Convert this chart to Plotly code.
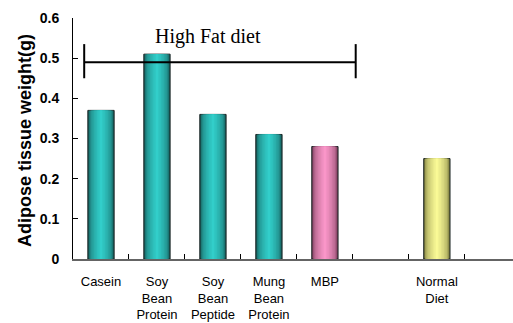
import plotly.graph_objects as go

# Adipose tissue weight by diet group
categories = ["Casein", "Soy<br>Bean<br>Protein", "Soy<br>Bean<br>Peptide",
              "Mung<br>Bean<br>Protein", "MBP", "", "Normal<br>Diet"]
weights = [0.37, 0.51, 0.36, 0.31, 0.28, None, 0.25]
bar_groups = ["teal", "teal", "teal", "teal", "pink", None, "yellow"]

# "High Fat diet" bracket: spans the first five groups
bracket_x = [-0.30, 4.55]
bracket_y = 0.49
bracket_cap = [0.45, 0.535]
bracket_label = "High Fat diet"

y_ticks = [0, 0.1, 0.2, 0.3, 0.4, 0.5, 0.6]
y_ticktext = ["0", "0.1", "0.2", "0.3", "0.4", "0.5", "0.6"]
y_title = "Adipose tissue weight(g)"

palette = {
    "teal": ((20, 90, 88), (50, 206, 202)),
    "pink": ((120, 60, 90), (250, 150, 200)),
    "yellow": ((120, 120, 60), (250, 250, 150)),
}


def mix(a, b, t):
    return "rgb(%d,%d,%d)" % tuple(round(a[i] + (b[i] - a[i]) * t) for i in range(3))


xs = list(range(len(categories)))
bar_width = 0.47
layers = 9

fig = go.Figure()
for key, (edge, centre) in palette.items():
    px = [x for x, g in zip(xs, bar_groups) if g == key]
    py = [v for v, g in zip(weights, bar_groups) if g == key]
    for k in range(layers):
        t = k / (layers - 1)
        w = bar_width * (1 - 0.92 * t)
        shade = t ** 0.45
        fig.add_trace(go.Bar(
            x=px, y=py, width=[w] * len(px),
            marker=dict(color=mix(edge, centre, shade),
                        line=dict(color="rgb(30,40,40)" if k == 0 else "rgba(0,0,0,0)",
                                  width=1 if k == 0 else 0)),
            showlegend=False, hoverinfo="skip",
        ))

# bracket line and end caps
fig.add_trace(go.Scatter(x=bracket_x, y=[bracket_y, bracket_y], mode="lines",
                         line=dict(color="black", width=2), showlegend=False, hoverinfo="skip"))
for bx in bracket_x:
    fig.add_trace(go.Scatter(x=[bx, bx], y=bracket_cap, mode="lines",
                             line=dict(color="black", width=2), showlegend=False, hoverinfo="skip"))

fig.add_annotation(x=sum(bracket_x) / 2 - 0.22, y=0.555, text=bracket_label, showarrow=False,
                   font=dict(family="Liberation Serif, Times New Roman, serif", size=20, color="black"),
                   xanchor="center", yanchor="middle")

# rotated y-axis title
fig.add_annotation(xref="paper", yref="paper", x=-0.109, y=0.49, text=y_title,
                   textangle=-90, showarrow=False, xanchor="center", yanchor="middle",
                   font=dict(family="Liberation Sans, Arial, sans-serif", size=18,
                             color="black", weight="bold"))

fig.update_layout(
    width=513, height=323,
    margin=dict(l=73, r=0, t=18, b=64),
    plot_bgcolor="white", paper_bgcolor="white",
    barmode="overlay",
    xaxis=dict(
        range=[-0.5, 7.36], tickvals=xs, ticktext=categories, ticks="",
        showline=True, linecolor="rgb(100,100,100)", linewidth=2,
        showgrid=False, zeroline=False, ticklabelstandoff=9,
        tickfont=dict(family="Liberation Sans, Arial, sans-serif", size=13, color="black"),
        minor=dict(tickvals=[x + 0.5 for x in xs], ticks="inside", ticklen=5,
                   tickcolor="black", tickwidth=1, showgrid=False),
    ),
    yaxis=dict(
        range=[0, 0.6], tickvals=y_ticks, ticktext=y_ticktext,
        ticks="inside", ticklen=5, tickcolor="black",
        showline=True, linecolor="black", linewidth=1,
        showgrid=False, zeroline=False, ticklabelstandoff=10,
        tickfont=dict(family="Liberation Sans, Arial, sans-serif", size=14, color="black", weight="bold"),
    ),
)

fig.write_html("out.html")
